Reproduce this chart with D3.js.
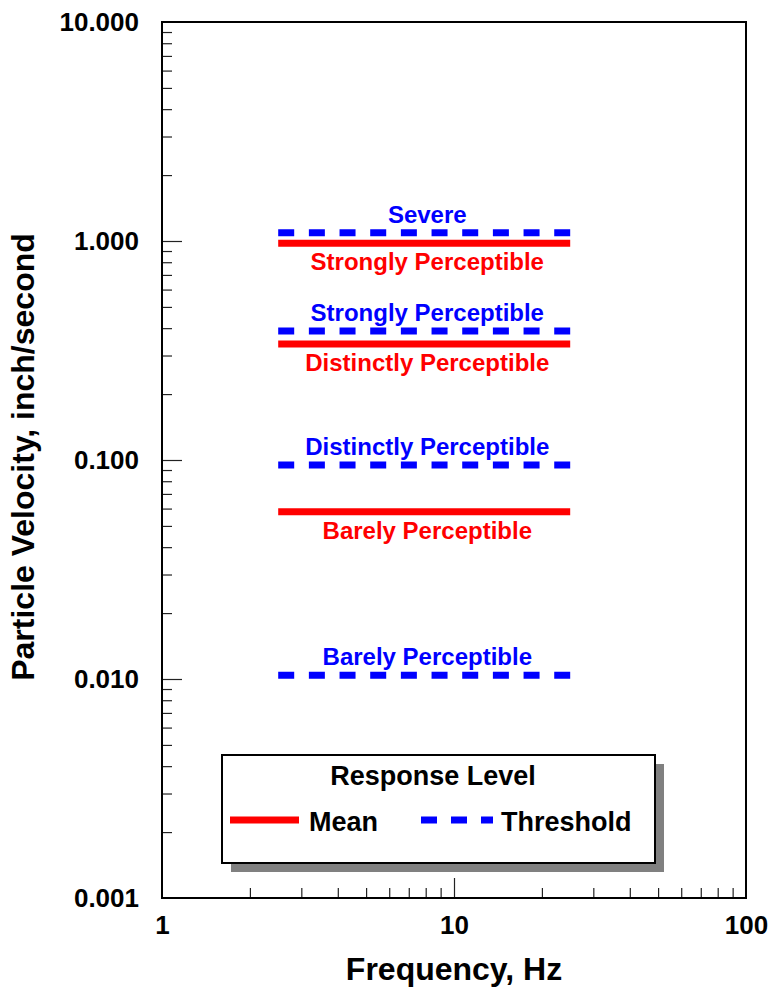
<!DOCTYPE html>
<html>
<head>
<meta charset="utf-8">
<script src="https://cdn.jsdelivr.net/npm/d3@7"></script>
<style>
  body { margin: 0; background: #fff; }
  text { font-family: "Liberation Sans", Arial, sans-serif; font-weight: bold; }
</style>
</head>
<body>
<div id="chart"></div>
<script>
// data
var freqRange = [2.5, 25];
var meanLevels = ["Barely Perceptible", "Distinctly Perceptible", "Strongly Perceptible"];
var meanValues = [0.058, 0.339, 0.976];
var thresholdLevels = ["Barely Perceptible", "Distinctly Perceptible", "Strongly Perceptible", "Severe"];
var thresholdValues = [0.0104, 0.0949, 0.388, 1.09];
var yTickValues = [0.001, 0.01, 0.1, 1, 10];
var yTickLabels = ["0.001", "0.010", "0.100", "1.000", "10.000"];
var xTickValues = [1, 10, 100];
var xTickLabels = ["1", "10", "100"];
var legendLabels = ["Mean", "Threshold"];

var W = 770, H = 992;
var pLeft = 162, pRight = 746, pTop = 22, pBottom = 898;
var labelX = 8.1; // label anchor frequency

var svg = d3.select("#chart").append("svg")
    .attr("width", W)
    .attr("height", H);

var x = d3.scaleLog().domain([1, 100]).range([pLeft, pRight]);
var y = d3.scaleLog().domain([0.001, 10]).range([pBottom, pTop]);

// minor ticks
var yMinor = [], xMinor = [];
[0.001, 0.01, 0.1, 1].forEach(function(d) {
  for (var k = 2; k <= 9; k++) yMinor.push(d * k);
});
[1, 10].forEach(function(d) {
  for (var k = 2; k <= 9; k++) xMinor.push(d * k);
});

function boldText(g) {
  g.selectAll("text").attr("font-size", 26).attr("fill", "#000")
    .style("font-family", "'Liberation Sans', Arial, sans-serif").style("font-weight", "bold");
}

var gy = svg.append("g").attr("transform", "translate(" + pLeft + ",0)");
gy.append("g")
  .call(d3.axisLeft(y).tickValues(yMinor).tickSizeInner(-10).tickSizeOuter(0).tickFormat(""))
  .call(function(g) { g.select(".domain").remove(); });
gy.append("g")
  .call(d3.axisLeft(y).tickValues(yTickValues).tickSizeInner(-20).tickSizeOuter(0).tickPadding(23)
    .tickFormat(function(d, i) { return yTickLabels[i]; }))
  .call(function(g) {
    g.select(".domain").remove();
    g.selectAll(".tick line").filter(function(d) { return d == 0.001 || d == 10; }).remove();
    boldText(g);
  });

var gx = svg.append("g").attr("transform", "translate(0," + pBottom + ")");
gx.append("g")
  .call(d3.axisBottom(x).tickValues(xMinor).tickSizeInner(-10).tickSizeOuter(0).tickFormat(""))
  .call(function(g) { g.select(".domain").remove(); });
gx.append("g")
  .call(d3.axisBottom(x).tickValues(xTickValues).tickSizeInner(-20).tickSizeOuter(0).tickPadding(18)
    .tickFormat(function(d, i) { return xTickLabels[i]; }))
  .call(function(g) {
    g.select(".domain").remove();
    g.selectAll(".tick line").filter(function(d) { return d == 1 || d == 100; }).remove();
    boldText(g);
  });

svg.selectAll(".tick line").attr("stroke", "#222").attr("stroke-width", 1.2);

// frame
svg.append("rect")
  .attr("x", pLeft).attr("y", pTop)
  .attr("width", pRight - pLeft).attr("height", pBottom - pTop)
  .attr("fill", "none").attr("stroke", "#000").attr("stroke-width", 2);

// mean lines (red solid)
svg.selectAll("line.mean")
  .data(meanValues)
  .enter().append("line")
  .attr("class", "mean")
  .attr("x1", x(freqRange[0])).attr("x2", x(freqRange[1]))
  .attr("y1", function(d) { return y(d); }).attr("y2", function(d) { return y(d); })
  .attr("stroke", "#ff0000").attr("stroke-width", 7);

svg.selectAll("text.mean")
  .data(meanValues)
  .enter().append("text")
  .attr("class", "mean")
  .attr("x", x(labelX))
  .attr("y", function(d) { return y(d) + 27; })
  .attr("text-anchor", "middle")
  .attr("font-size", 24)
  .attr("fill", "#ff0000")
  .text(function(d, i) { return meanLevels[i]; });

// threshold lines (blue dashed)
svg.selectAll("line.thr")
  .data(thresholdValues)
  .enter().append("line")
  .attr("class", "thr")
  .attr("x1", x(freqRange[0])).attr("x2", x(freqRange[1]))
  .attr("y1", function(d) { return y(d); }).attr("y2", function(d) { return y(d); })
  .attr("stroke", "#0000ff").attr("stroke-width", 7)
  .attr("stroke-dasharray", "16,14.67");

svg.selectAll("text.thr")
  .data(thresholdValues)
  .enter().append("text")
  .attr("class", "thr")
  .attr("x", x(labelX))
  .attr("y", function(d) { return y(d) - 10; })
  .attr("text-anchor", "middle")
  .attr("font-size", 24)
  .attr("fill", "#0000ff")
  .text(function(d, i) { return thresholdLevels[i]; });

// axis titles
svg.append("text")
  .attr("x", (pLeft + pRight) / 2).attr("y", 980)
  .attr("text-anchor", "middle")
  .attr("font-size", 32)
  .text("Frequency, Hz");

svg.append("text")
  .attr("transform", "translate(34," + ((pTop + pBottom) / 2 - 3) + ") rotate(-90)")
  .attr("text-anchor", "middle")
  .attr("font-size", 32)
  .text("Particle Velocity, inch/second");

// legend
var lg = svg.append("g").attr("transform", "translate(222,755)");
lg.append("rect")
  .attr("x", 9).attr("y", 9).attr("width", 433).attr("height", 108)
  .attr("fill", "#808080");
lg.append("rect")
  .attr("width", 433).attr("height", 108)
  .attr("fill", "#fff").attr("stroke", "#000").attr("stroke-width", 2);
lg.append("text")
  .attr("x", 211).attr("y", 30)
  .attr("text-anchor", "middle")
  .attr("font-size", 27)
  .text("Response Level");

lg.append("line")
  .attr("x1", 8).attr("x2", 77).attr("y1", 65).attr("y2", 65)
  .attr("stroke", "#ff0000").attr("stroke-width", 7);
lg.append("text")
  .attr("x", 87).attr("y", 76)
  .attr("font-size", 27)
  .text(legendLabels[0]);

lg.append("line")
  .attr("x1", 199).attr("x2", 271).attr("y1", 65).attr("y2", 65)
  .attr("stroke", "#0000ff").attr("stroke-width", 7)
  .attr("stroke-dasharray", "16,14");
lg.append("text")
  .attr("x", 279).attr("y", 76)
  .attr("font-size", 27)
  .text(legendLabels[1]);
</script>
</body>
</html>
